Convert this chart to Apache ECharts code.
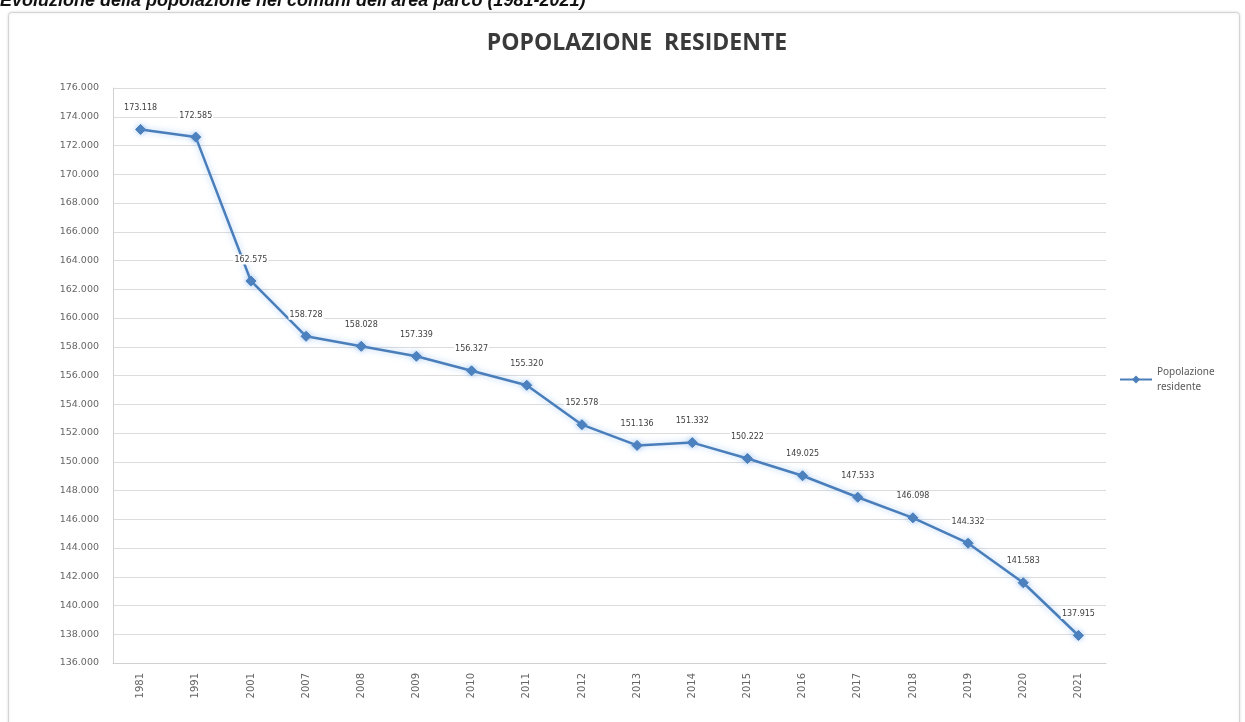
<!DOCTYPE html>
<html>
<head>
<meta charset="utf-8">
<title>Popolazione residente</title>
<script src="https://cdn.jsdelivr.net/npm/echarts@6/dist/echarts.min.js"></script>
<style>
  html, body { margin: 0; padding: 0; background: #ffffff; }
  #chart { width: 1245px; height: 722px; }
</style>
</head>
<body>
<div id="chart"></div>
<script>
// Anni di rilevazione (asse delle categorie)
const years = ['1981', '1991', '2001', '2007', '2008', '2009', '2010', '2011', '2012',
               '2013', '2014', '2015', '2016', '2017', '2018', '2019', '2020', '2021'];

// Popolazione residente nei comuni dell'area parco
const residents = [173118, 172585, 162575, 158728, 158028, 157339, 156327, 155320, 152578,
                   151136, 151332, 150222, 149025, 147533, 146098, 144332, 141583, 137915];

// Scala dell'asse verticale
const yMin = 136000;
const yMax = 176000;
const yStep = 2000;

const seriesName = 'Popolazione residente';
const headerText = "Evoluzione della popolazione nei comuni dell'area parco (1981-2021)";
const chartTitle = 'POPOLAZIONE  RESIDENTE';

// Formato italiano con il punto come separatore delle migliaia
const fmt = v => String(v).replace(/\B(?=(\d{3})+(?!\d))/g, '.');

const chart = echarts.init(document.getElementById('chart'), null, { renderer: 'canvas' });

chart.setOption({
  backgroundColor: '#ffffff',
  animation: false,
  graphic: [
    {
      type: 'rect',
      shape: { x: 8.5, y: 12.5, width: 1231, height: 720, r: 3 },
      style: { fill: '#ffffff', stroke: '#d4d4d4', lineWidth: 1,
               shadowColor: 'rgba(0,0,0,0.12)', shadowBlur: 3 },
      z: -10
    },
    {
      type: 'text',
      left: 0,
      top: -8,
      style: {
        text: headerText,
        font: 'italic bold 18px "Liberation Sans", Arial, sans-serif',
        fill: '#111111'
      }
    }
  ],
  title: {
    text: chartTitle,
    left: 632,
    textAlign: 'center',
    top: 27,
    textStyle: {
      fontFamily: '"Open Sans", sans-serif',
      fontWeight: 'bold',
      fontSize: 23,
      color: '#3a3a3a'
    }
  },
  legend: {
    data: [seriesName],
    orient: 'vertical',
    left: 1114,
    top: 352,
    itemWidth: 32,
    itemHeight: 10,
    itemGap: 4,
    formatter: () => 'Popolazione\nresidente',
    textStyle: {
      fontFamily: '"Noto Sans", sans-serif',
      fontSize: 10,
      color: '#595959',
      lineHeight: 15,
      padding: [15, 0, 0, 0]
    }
  },
  grid: {
    left: 113,
    right: 139,
    top: 88,
    bottom: 59,
    containLabel: false
  },
  xAxis: {
    type: 'category',
    data: years,
    boundaryGap: true,
    axisLine: { show: true, lineStyle: { color: '#d0d0d0', width: 1 } },
    axisTick: { show: false },
    axisLabel: {
      rotate: 90,
      margin: 10,
      fontFamily: '"DejaVu Sans", sans-serif',
      fontSize: 10,
      color: '#666666'
    },
    splitLine: { show: false }
  },
  yAxis: {
    type: 'value',
    min: yMin,
    max: yMax,
    interval: yStep,
    axisLine: { show: true, lineStyle: { color: '#d0d0d0', width: 1 } },
    axisTick: { show: false },
    axisLabel: {
      margin: 14,
      formatter: fmt,
      fontFamily: '"DejaVu Sans", sans-serif',
      fontSize: 9.5,
      color: '#666666'
    },
    splitLine: { show: true, lineStyle: { color: '#dcdcdc', width: 1 } }
  },
  series: [
    {
      name: seriesName,
      type: 'line',
      data: residents,
      symbol: 'diamond',
      symbolSize: 10,
      lineStyle: {
        color: '#4a7ebb',
        width: 2.5,
        shadowColor: 'rgba(110,170,235,0.55)',
        shadowBlur: 6
      },
      itemStyle: {
        color: '#4a7ebb',
        borderColor: '#4a7ebb',
        shadowColor: 'rgba(110,170,235,0.55)',
        shadowBlur: 5
      },
      label: {
        show: true,
        position: 'top',
        distance: 11,
        formatter: p => fmt(p.value),
        fontFamily: '"DejaVu Sans", sans-serif',
        fontSize: 8,
        color: '#404040',
        backgroundColor: '#ffffff',
        padding: [1, 1]
      }
    }
  ]
});
</script>
</body>
</html>
